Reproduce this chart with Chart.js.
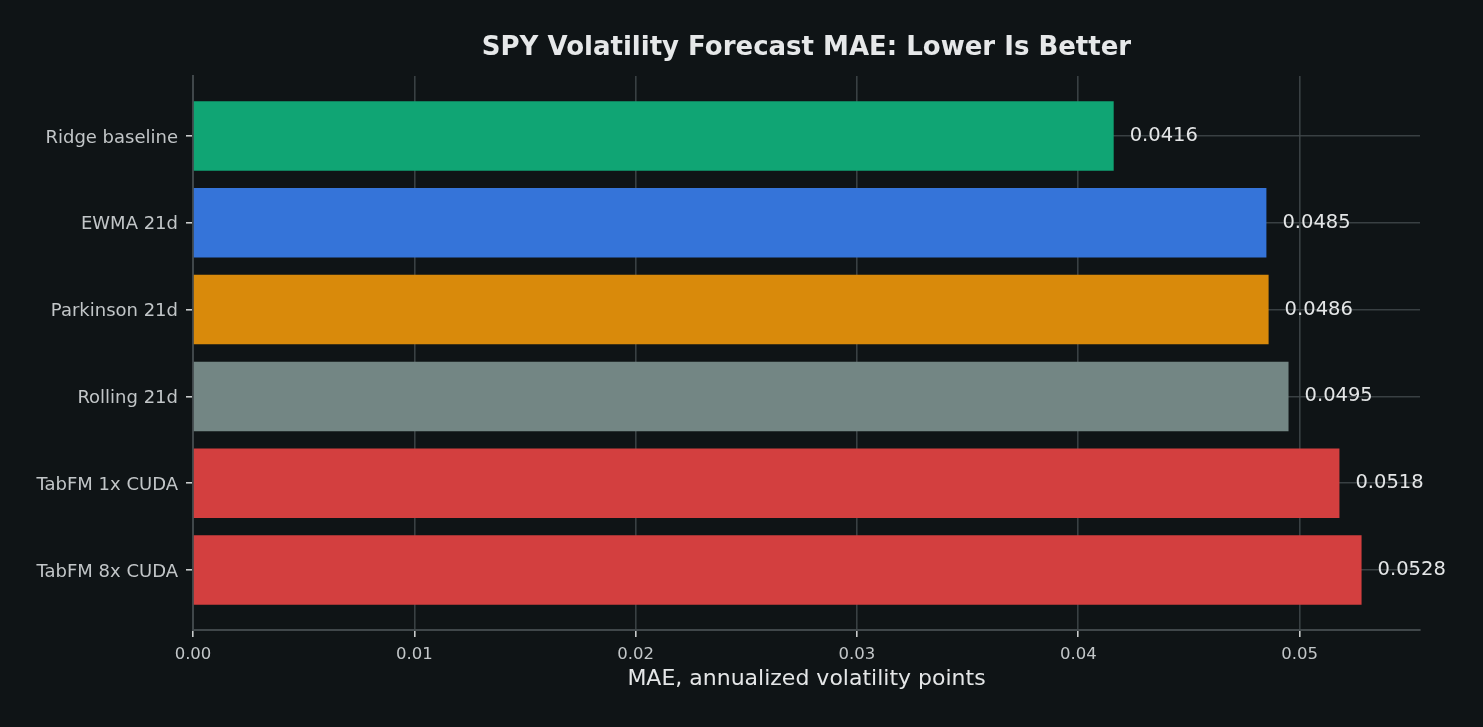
<!DOCTYPE html>
<html lang="en">
<head>
    <meta charset="UTF-8">
    <title>SPY Volatility Forecast MAE</title>
    <script src="https://cdn.jsdelivr.net/npm/chart.js"></script>
    <style>
        html, body {
            margin: 0;
            padding: 0;
            background: #0f1416;
        }
        #wrap {
            width: 1483px;
            height: 727px;
        }
    </style>
</head>
<body>
    <div id="wrap"><canvas id="mae"></canvas></div>
    <script>
        const models = ['Ridge baseline', 'EWMA 21d', 'Parkinson 21d', 'Rolling 21d', 'TabFM 1x CUDA', 'TabFM 8x CUDA'];
        const maeValues = [0.0416, 0.0485, 0.0486, 0.0495, 0.0518, 0.0528];
        const barColors = ['#10a574', '#3574d9', '#d98a0b', '#738684', '#d33f3f', '#d33f3f'];
        const xTicks = [0, 0.01, 0.02, 0.03, 0.04, 0.05];
        const chartTitle = 'SPY Volatility Forecast MAE: Lower Is Better';

        const gridColor = 'rgba(67,74,77,0.82)';
        const font = 'DejaVu Sans';

        // value labels to the right of each bar + title centred over the plot area
        const annotate = {
            id: 'annotate',
            afterDatasetsDraw(chart) {
                const ctx = chart.ctx;
                const meta = chart.getDatasetMeta(0);
                ctx.save();
                ctx.font = `19.5px "${font}"`;
                ctx.fillStyle = '#e4e6e7';
                ctx.textAlign = 'left';
                ctx.textBaseline = 'middle';
                meta.data.forEach((bar, i) => {
                    ctx.fillText(maeValues[i].toFixed(4), bar.x + 16, bar.y);
                });
                ctx.restore();
            },
            afterDraw(chart) {
                const ctx = chart.ctx;
                const area = chart.chartArea;
                ctx.save();
                ctx.font = `bold 26px "${font}"`;
                ctx.fillStyle = '#e6e8e9';
                ctx.textAlign = 'center';
                ctx.textBaseline = 'alphabetic';
                ctx.fillText(chartTitle, (area.left + area.right) / 2, 55);
                ctx.restore();
            }
        };

        new Chart(document.getElementById('mae'), {
            type: 'bar',
            data: {
                datasets: [{
                    data: maeValues.map((v, i) => ({ x: v, y: i })),
                    backgroundColor: barColors,
                    borderWidth: 0,
                    barPercentage: 0.8,
                    categoryPercentage: 1
                }]
            },
            options: {
                indexAxis: 'y',
                responsive: true,
                maintainAspectRatio: false,
                animation: false,
                layout: { padding: { left: 0, right: 63, top: 76, bottom: 0 } },
                plugins: {
                    legend: { display: false },
                    tooltip: { enabled: false },
                    title: { display: false }
                },
                scales: {
                    x: {
                        type: 'linear',
                        min: 0,
                        max: 0.05544,
                        z: 1,
                        afterBuildTicks: s => { s.ticks = xTicks.map(v => ({ value: v })); },
                        afterFit: s => { s.height = 97; },
                        ticks: {
                            color: '#c2c6c8',
                            font: { family: font, size: 16.5 },
                            padding: 8,
                            callback: v => v.toFixed(2)
                        },
                        grid: { color: gridColor, lineWidth: 1.6, tickColor: '#c8cbcc', tickLength: 7 },
                        border: { color: '#40474a', width: 2 },
                        title: {
                            display: true,
                            text: 'MAE, annualized volatility points',
                            color: '#e4e6e7',
                            font: { family: font, size: 22, lineHeight: 1.2 },
                            padding: { top: 0, bottom: 35 }
                        }
                    },
                    y: {
                        type: 'linear',
                        min: -0.69,
                        max: 5.69,
                        reverse: true,
                        offset: false,
                        z: 1,
                        afterBuildTicks: s => { s.ticks = models.map((_, i) => ({ value: i })); },
                        afterFit: s => { s.width = 193; },
                        ticks: {
                            color: '#c2c6c8',
                            font: { family: font, size: 18 },
                            padding: 8,
                            labelOffset: 2,
                            callback: v => models[v]
                        },
                        grid: { offset: false, color: gridColor, lineWidth: 1.6, tickColor: '#c8cbcc', tickLength: 7 },
                        border: { color: '#40474a', width: 2 }
                    }
                }
            },
            plugins: [annotate]
        });
    </script>
</body>
</html>
